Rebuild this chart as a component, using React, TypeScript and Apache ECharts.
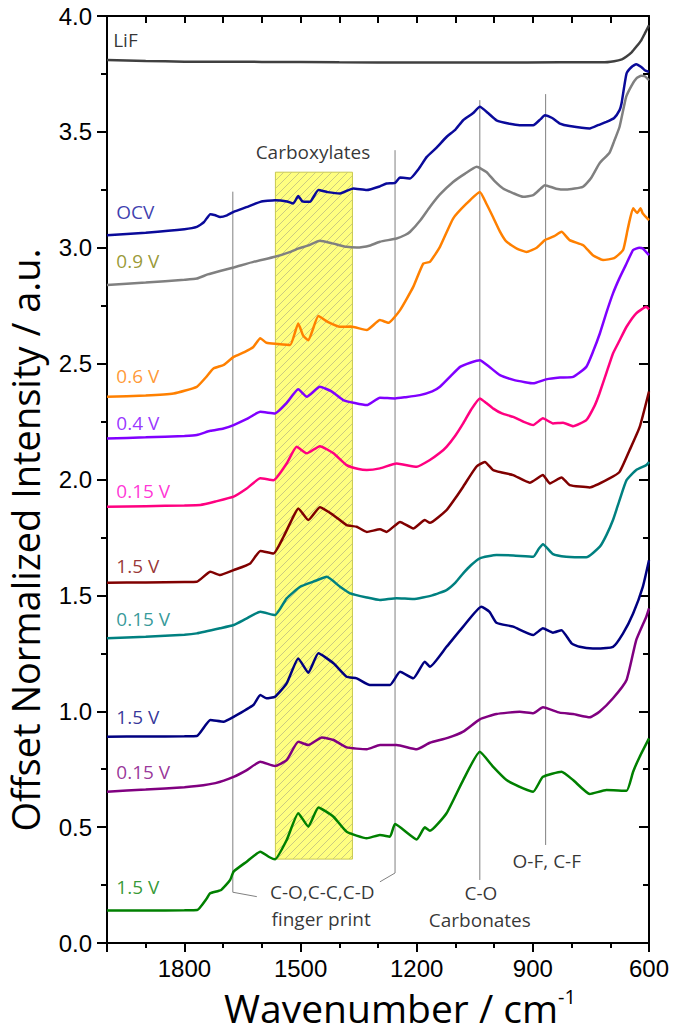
import React, { useEffect, useRef } from "react";
import * as echarts from "echarts";

// ---------- axis ranges / ticks ----------
const X_MIN = 600;
const X_MAX = 2000;
const X_MAJOR = 300;
const X_MINOR = 100;
const Y_MIN = 0;
const Y_MAX = 4;
const Y_STEP = 0.5;

// ---------- spectra: [wavenumber cm-1, offset intensity] ----------
const lif = [[2000,3.81],[1900,3.806],[1800,3.803],[1600,3.802],[1400,3.80],[1200,3.799],[1000,3.799],[830,3.80],[720,3.80],[690,3.805],[670,3.813],[659,3.824],[645,3.843],[633,3.867],[620,3.895],[611,3.924],[600,3.96]];
const ocv = [[2000,3.054],[1900,3.065],[1800,3.08],[1768,3.09],[1750,3.11],[1733,3.145],[1720,3.14],[1708,3.133],[1690,3.14],[1673,3.155],[1640,3.175],[1604,3.198],[1566,3.205],[1535,3.2],[1519,3.191],[1506,3.223],[1495,3.2],[1476,3.198],[1454,3.249],[1430,3.24],[1398,3.234],[1364,3.256],[1329,3.249],[1295,3.265],[1278,3.277],[1256,3.28],[1243,3.303],[1217,3.299],[1195,3.34],[1174,3.392],[1150,3.43],[1123,3.478],[1100,3.51],[1080,3.55],[1055,3.58],[1037,3.608],[1015,3.58],[994,3.55],[960,3.535],[934,3.529],[899,3.529],[880,3.555],[869,3.572],[850,3.56],[830,3.536],[805,3.525],[753,3.515],[730,3.53],[710,3.543],[690,3.56],[676,3.594],[671,3.622],[658,3.752],[645,3.78],[633,3.792],[620,3.78],[611,3.766],[600,3.759]];
const v09 = [[2000,2.839],[1900,2.85],[1800,2.862],[1768,2.867],[1740,2.885],[1708,2.9],[1673,2.915],[1620,2.94],[1566,2.961],[1530,2.98],[1505,2.997],[1480,3.01],[1450,3.03],[1420,3.02],[1381,3.004],[1355,3.001],[1320,3.01],[1295,3.026],[1252,3.04],[1230,3.055],[1217,3.069],[1190,3.12],[1166,3.176],[1140,3.23],[1106,3.284],[1075,3.32],[1045,3.349],[1020,3.327],[1000,3.29],[977,3.256],[950,3.235],[925,3.22],[899,3.227],[880,3.255],[869,3.27],[840,3.255],[814,3.251],[771,3.263],[750,3.3],[728,3.364],[702,3.41],[690,3.46],[676,3.522],[659,3.651],[645,3.7],[633,3.73],[620,3.742],[611,3.74],[600,3.723]];
const v06 = [[2000,2.357],[1900,2.362],[1828,2.371],[1768,2.4],[1745,2.44],[1725,2.479],[1699,2.494],[1673,2.529],[1645,2.55],[1622,2.572],[1604,2.609],[1588,2.59],[1560,2.585],[1527,2.58],[1506,2.673],[1493,2.62],[1480,2.601],[1454,2.705],[1430,2.68],[1398,2.659],[1370,2.66],[1329,2.645],[1295,2.688],[1273,2.676],[1243,2.731],[1209,2.831],[1183,2.932],[1166,2.939],[1140,3.004],[1106,3.126],[1071,3.191],[1037,3.241],[1020,3.19],[1003,3.133],[985,3.07],[968,3.026],[940,2.995],[916,2.982],[890,3.0],[869,3.033],[845,3.05],[826,3.069],[805,3.033],[770,3.011],[745,2.968],[719,2.947],[690,2.955],[667,2.99],[655,3.08],[641,3.17],[630,3.15],[622,3.17],[616,3.148],[600,3.119]];
const v04 = [[2000,2.177],[1900,2.182],[1800,2.188],[1768,2.192],[1733,2.21],[1699,2.22],[1673,2.235],[1640,2.26],[1604,2.292],[1566,2.285],[1536,2.33],[1506,2.389],[1484,2.357],[1450,2.4],[1420,2.38],[1390,2.343],[1360,2.33],[1329,2.321],[1295,2.353],[1256,2.35],[1230,2.355],[1192,2.364],[1160,2.38],[1140,2.4],[1110,2.45],[1088,2.486],[1060,2.505],[1037,2.515],[1015,2.49],[985,2.45],[950,2.43],[920,2.42],[899,2.415],[866,2.432],[830,2.44],[796,2.443],[762,2.486],[745,2.55],[727,2.63],[710,2.72],[693,2.803],[676,2.87],[658,2.932],[641,2.99],[625,3.0],[616,2.997],[600,2.968]];
const v015a = [[2000,1.882],[1900,1.885],[1800,1.888],[1759,1.89],[1720,1.905],[1673,1.926],[1640,1.96],[1604,2.005],[1570,1.997],[1536,2.069],[1510,2.141],[1484,2.113],[1450,2.144],[1415,2.113],[1381,2.062],[1350,2.045],[1329,2.041],[1295,2.048],[1252,2.069],[1200,2.055],[1166,2.084],[1140,2.115],[1123,2.141],[1100,2.19],[1080,2.242],[1060,2.3],[1037,2.35],[1020,2.33],[1003,2.307],[980,2.285],[951,2.27],[925,2.25],[899,2.235],[874,2.264],[848,2.242],[822,2.245],[796,2.23],[762,2.256],[740,2.32],[728,2.371],[710,2.46],[693,2.544],[676,2.6],[658,2.659],[633,2.717],[607,2.745],[600,2.734]];
const v15a = [[2000,1.554],[1900,1.556],[1800,1.558],[1768,1.559],[1733,1.602],[1708,1.588],[1673,1.609],[1630,1.638],[1604,1.692],[1570,1.681],[1544,1.753],[1519,1.839],[1506,1.875],[1480,1.825],[1450,1.88],[1415,1.846],[1381,1.803],[1355,1.796],[1329,1.774],[1295,1.785],[1278,1.774],[1243,1.817],[1209,1.789],[1179,1.825],[1166,1.813],[1123,1.868],[1100,1.92],[1080,1.969],[1046,2.055],[1024,2.076],[1003,2.041],[980,2.03],[951,2.019],[908,1.986],[874,2.019],[856,1.983],[826,2.009],[805,1.976],[753,1.966],[702,2.005],[676,2.033],[650,2.127],[624,2.227],[600,2.38]];
const v015b = [[2000,1.315],[1900,1.322],[1800,1.33],[1768,1.336],[1708,1.358],[1673,1.372],[1640,1.4],[1604,1.429],[1566,1.415],[1536,1.487],[1501,1.537],[1467,1.559],[1432,1.58],[1398,1.537],[1372,1.509],[1329,1.491],[1295,1.48],[1252,1.488],[1209,1.484],[1160,1.5],[1123,1.523],[1100,1.555],[1080,1.595],[1060,1.63],[1037,1.66],[994,1.674],[950,1.672],[899,1.667],[885,1.7],[874,1.721],[848,1.678],[814,1.667],[762,1.664],[727,1.71],[710,1.76],[693,1.825],[676,1.911],[658,1.997],[633,2.041],[607,2.062],[600,2.076]];
const v15b = [[2000,0.89],[1900,0.891],[1800,0.892],[1768,0.893],[1733,0.962],[1699,0.955],[1673,0.976],[1622,1.027],[1604,1.07],[1588,1.056],[1566,1.063],[1536,1.12],[1506,1.228],[1480,1.166],[1454,1.25],[1415,1.207],[1381,1.149],[1355,1.142],[1321,1.113],[1295,1.113],[1269,1.113],[1243,1.17],[1209,1.142],[1179,1.214],[1166,1.192],[1123,1.278],[1080,1.365],[1033,1.451],[1012,1.429],[994,1.382],[951,1.365],[899,1.329],[874,1.358],[848,1.339],[826,1.35],[800,1.293],[779,1.278],[745,1.271],[693,1.278],[667,1.336],[641,1.422],[616,1.537],[600,1.652]];
const v015c = [[2000,0.653],[1900,0.662],[1800,0.672],[1768,0.677],[1720,0.69],[1673,0.717],[1640,0.745],[1604,0.782],[1566,0.764],[1536,0.789],[1506,0.868],[1480,0.854],[1445,0.887],[1415,0.876],[1381,0.844],[1329,0.836],[1295,0.854],[1252,0.854],[1200,0.836],[1166,0.864],[1120,0.885],[1080,0.912],[1037,0.965],[994,0.988],[934,0.998],[899,0.991],[874,1.017],[831,0.994],[796,0.988],[753,0.974],[728,0.998],[693,1.056],[658,1.135],[633,1.307],[607,1.408],[600,1.444]];
const v15c = [[2000,0.14],[1900,0.14],[1800,0.141],[1767,0.142],[1742,0.193],[1734,0.214],[1705,0.229],[1682,0.272],[1673,0.308],[1640,0.35],[1604,0.394],[1580,0.37],[1566,0.361],[1536,0.444],[1506,0.56],[1480,0.502],[1454,0.585],[1415,0.545],[1381,0.48],[1329,0.452],[1295,0.466],[1269,0.459],[1256,0.513],[1200,0.447],[1179,0.499],[1166,0.484],[1123,0.56],[1080,0.703],[1037,0.825],[1003,0.761],[968,0.703],[925,0.667],[899,0.653],[874,0.717],[826,0.739],[796,0.703],[753,0.643],[710,0.66],[658,0.657],[641,0.739],[624,0.804],[600,0.883]];

const SPECTRA_DATA = [lif, ocv, v09, v06, v04, v015a, v15a, v015b, v15b, v015c, v15c];
const SPECTRA_NAMES = ["LiF", "OCV", "0.9 V", "0.6 V", "0.4 V", "0.15 V", "1.5 V", "0.15 V", "1.5 V", "0.15 V", "1.5 V"];
const LINE_COLORS = ["#404040", "#0a0a9a", "#808080", "#ff8000", "#8000ff", "#ff0080", "#800000", "#008080", "#000080", "#800080", "#008000"];
const LABEL_COLORS = ["#000000", "#0a0a9a", "#808000", "#ff8000", "#8000ff", "#ff00cc", "#800000", "#008080", "#000080", "#800080", "#008000"];
// label anchor (left-middle) in data coordinates
const LABEL_POS = [[1984, 3.896], [1976, 3.154], [1976, 2.942], [1976, 2.446], [1976, 2.243], [1976, 1.95], [1976, 1.626], [1976, 1.398], [1976, 0.975], [1976, 0.738], [1976, 0.242]];

// ---------- annotations ----------
const REF_LINES = [
  [[1675, 3.242], [1675, 0.219], [1613, 0.2]],
  [[1256, 3.421], [1256, 0.302], [1295, 0.264]],
  [[1037, 3.637], [1037, 0.272]],
  [[867, 3.663], [867, 0.423]],
];
const BOX = [[1565, 3.326], [1366, 0.362]];
const NOTES = [
  { text: "Carboxylates", at: [1468, 3.412] },
  { text: "C-O,C-C,C-D", at: [1444, 0.22] },
  { text: "finger print", at: [1447, 0.104] },
  { text: "C-O", at: [1034, 0.216] },
  { text: "Carbonates", at: [1037, 0.099] },
  { text: "O-F, C-F", at: [864, 0.354] },
];

const SANS = '"Open Sans", "Noto Sans", sans-serif';
const TICKFONT = '"Liberation Sans", Arial, sans-serif';

function hatchImage(): string {
  const c = document.createElement("canvas");
  c.width = 8;
  c.height = 8;
  const ctx = c.getContext("2d")!;
  ctx.fillStyle = "#ffff80";
  ctx.fillRect(0, 0, 8, 8);
  ctx.strokeStyle = "rgba(160,160,130,0.55)";
  ctx.lineWidth = 1;
  ctx.beginPath();
  ctx.moveTo(0, 8); ctx.lineTo(8, 0);
  ctx.moveTo(-1, 1); ctx.lineTo(1, -1);
  ctx.moveTo(7, 9); ctx.lineTo(9, 7);
  ctx.stroke();
  return c.toDataURL();
}

export default function App() {
  const ref = useRef<HTMLDivElement>(null);
  useEffect(() => {
    document.body.style.margin = "0";
    const chart = echarts.init(ref.current!, null, { renderer: "svg" });
    const axisLineStyle = { color: "#000", width: 2 };
    const xBase = { type: "value", min: X_MIN, max: X_MAX, inverse: true, splitLine: { show: false } };
    const yBase = { type: "value", min: Y_MIN, max: Y_MAX, interval: Y_STEP, splitLine: { show: false } };

    const spectraSeries = SPECTRA_DATA.map((d, i) => ({
      type: "line",
      name: SPECTRA_NAMES[i] + "#" + i,
      data: d,
      showSymbol: false,
      smooth: 0.15,
      z: 3,
      lineStyle: { color: LINE_COLORS[i], width: 2.5 },
      itemStyle: { color: LINE_COLORS[i] },
      silent: true,
    }));

    const refSeries = REF_LINES.map((d, i) => ({
      type: "line",
      data: d,
      showSymbol: false,
      z: 2,
      silent: true,
      lineStyle: { color: "#808080", width: 1 },
      ...(i === 0
        ? {
            markArea: {
              silent: true,
              z: 1,
              itemStyle: {
                color: { image: hatchImage(), repeat: "repeat" },
                borderColor: "#c8c850",
                borderWidth: 1,
              },
              data: [[{ coord: BOX[0] }, { coord: BOX[1] }]],
            },
          }
        : {}),
    }));

    const labelData = SPECTRA_NAMES.map((n, i) => ({
      value: LABEL_POS[i],
      label: { formatter: n, color: LABEL_COLORS[i], align: "left" },
    }));
    const noteData = NOTES.map((n) => ({
      value: n.at,
      label: { formatter: n.text, color: "#000", align: "center" },
    }));

    chart.setOption({
      animation: false,
      grid: { left: 107, right: 26, top: 16, bottom: 92 },
      xAxis: [
        {
          ...xBase,
          position: "bottom",
          interval: X_MAJOR,
          axisLine: { show: true, onZero: false, lineStyle: axisLineStyle },
          axisTick: { show: true, length: 9, lineStyle: axisLineStyle },
          axisLabel: {
            fontSize: 24, fontFamily: TICKFONT, color: "#000", margin: 13,
            formatter: (v: number) => (v === X_MAX ? "" : String(v)),
          },
        },
        {
          ...xBase,
          position: "bottom",
          interval: X_MINOR,
          axisLine: { show: false, onZero: false },
          axisTick: { show: true, length: 5, lineStyle: axisLineStyle },
          axisLabel: { show: false },
        },
        {
          ...xBase,
          position: "top",
          interval: X_MINOR,
          axisLine: { show: true, onZero: false, lineStyle: axisLineStyle },
          axisTick: { show: true, inside: true, length: 7, lineStyle: axisLineStyle },
          axisLabel: { show: false },
        },
      ],
      yAxis: [
        {
          ...yBase,
          position: "left",
          axisLine: { show: true, onZero: false, lineStyle: axisLineStyle },
          axisTick: { show: true, length: 10, lineStyle: axisLineStyle },
          minorTick: { show: true, splitNumber: 2, length: 6, lineStyle: axisLineStyle },
          axisLabel: {
            fontSize: 24, fontFamily: TICKFONT, color: "#000", margin: 15,
            formatter: (v: number) => v.toFixed(1),
          },
        },
        {
          ...yBase,
          position: "right",
          axisLine: { show: true, onZero: false, lineStyle: axisLineStyle },
          axisTick: { show: true, inside: true, length: 10, lineStyle: axisLineStyle },
          minorTick: { show: true, splitNumber: 2, length: 6, lineStyle: axisLineStyle },
          axisLabel: { show: false },
        },
      ],
      series: [
        ...refSeries,
        ...spectraSeries,
        {
          type: "scatter",
          data: [...labelData, ...noteData],
          symbolSize: 0,
          silent: true,
          z: 5,
          label: {
            show: true,
            position: [0, 0],
            verticalAlign: "middle",
            fontSize: 19,
            fontFamily: SANS,
          },
        },
      ],
      graphic: [
        {
          type: "text",
          x: 400,
          y: 1007,
          style: {
            text: "{a|Wavenumber / cm}{b|-1}",
            align: "center",
            verticalAlign: "middle",
            rich: {
              a: { fontSize: 39, fontFamily: SANS, fill: "#000", lineHeight: 42 },
              b: { fontSize: 20, fontFamily: SANS, fill: "#000", lineHeight: 20, verticalAlign: "top" },
            },
          },
        },
        {
          type: "text",
          x: 25,
          y: 540,
          rotation: Math.PI / 2,
          style: {
            text: "Offset Normalized Intensity / a.u.",
            align: "center",
            verticalAlign: "middle",
            fontSize: 38,
            fontFamily: SANS,
            fill: "#000",
          },
        },
      ],
    });
    return () => chart.dispose();
  }, []);
  return <div ref={ref} style={{ position: "absolute", left: 0, top: 0, width: 675, height: 1035 }} />;
}
